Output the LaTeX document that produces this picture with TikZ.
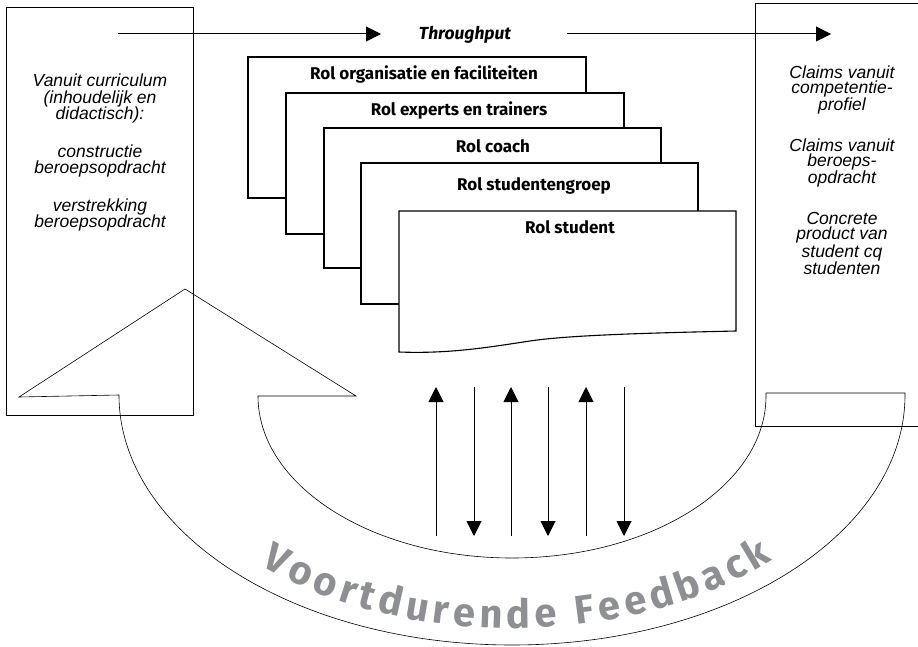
\documentclass[tikz,border=0pt]{standalone}
\usepackage{fontspec}
\setmainfont{Liberation Sans}
\newfontfamily\rolfont{Fira Sans}
\usetikzlibrary{arrows.meta,decorations.text}
\definecolor{fbgray}{RGB}{142,143,147}
\tikzset{
  sidebox/.style={draw,line width=1pt},
  docbox/.style={draw,fill=white,line width=1.1pt},
  roltext/.style={font=\rolfont\bfseries\fontsize{17}{20}\selectfont},
  sidetext/.style={align=center,font=\itshape\fontsize{17.5}{16.5}\selectfont},
  claimtext/.style={align=center,font=\itshape\fontsize{17.5}{15}\selectfont},
  flow/.style={line width=1pt,-{Triangle[length=15pt,width=15pt]}},
  feedline/.style={line width=0.6pt},
}
\begin{document}
\begin{tikzpicture}[x=1pt,y=-1pt]
\useasboundingbox (0,0) rectangle (918,647);

%-------------------Side Boxes--------------------%
\draw[sidebox] (6,8) rectangle (193,415);
\draw[sidebox] (918,4) -- (755,4) -- (755,426) -- (918,426);

\node[sidetext] (curric) at (100,98.5) {Vanuit curriculum\\(inhoudelijk en\\didactisch):};
\node[sidetext] (constr) at (100,161) {constructie\\beroepsopdracht};
\node[sidetext] (verstr) at (100,215) {verstrekking\\beroepsopdracht};

\node[claimtext] (claimprof) at (842,90) {Claims vanuit\\competentie-\\profiel};
\node[claimtext] (claimopdr) at (842,163) {Claims vanuit\\beroeps-\\opdracht};
\node[claimtext] (product) at (842,243.5) {Concrete\\product van\\student cq\\studenten};
%--------------------------------------------------%

%-------------------Throughput--------------------%
\node[font=\rolfont\bfseries\itshape\fontsize{17.5}{20}\selectfont] (thru) at (465,35) {Throughput};
\coordinate (thruin) at (118,34);
\coordinate (thruleft) at (381,34);
\coordinate (thruright) at (567,34);
\coordinate (thruout) at (831,34);
\draw[flow] (thruin) -- (thruleft);
\draw[flow] (thruright) -- (thruout);
%--------------------------------------------------%

%-------------------Role Stack--------------------%
\draw[docbox] (248,57) rectangle (586,198);
\draw[docbox] (286,93) rectangle (624,234);
\draw[docbox] (324,128) rectangle (661,268);
\draw[docbox] (361,163) rectangle (698,304);
\draw[docbox] (399,211) -- (736,211) -- (736,331) .. controls (650,333) and (570,335) .. (530,341) .. controls (490,347) and (450,354) .. (399,352) -- cycle;

\node[roltext] (rolorg) at (424,74) {Rol organisatie en faciliteiten};
\node[roltext] (rolexp) at (459,110) {Rol experts en trainers};
\node[roltext] (rolcoach) at (493,146) {Rol coach};
\node[roltext] (rolgroep) at (534,186) {Rol studentengroep};
\node[roltext] (rolstud) at (570,227) {Rol student};
%--------------------------------------------------%

%-------------------Up and Down--------------------%
\foreach \i/\x in {1/436,2/474,3/511,4/548,5/586,6/624}{
  \coordinate (top\i) at (\x,387);
  \coordinate (bot\i) at (\x,536);
}
\draw[flow] (bot1) -- (top1);
\draw[flow] (top2) -- (bot2);
\draw[flow] (bot3) -- (top3);
\draw[flow] (top4) -- (bot4);
\draw[flow] (bot5) -- (top5);
\draw[flow] (top6) -- (bot6);
%--------------------------------------------------%

%-------------------Feedback Arrow-----------------%
\draw[feedline] (766,393) -- (905,393) -- (905,395) arc(0:180:393 and 250) -- (19,397) -- (185,289) -- (356,396) -- (258,396) arc(180:0:254 and 162) -- cycle;
\path[decorate,decoration={text along path,text align=fit to path,text color=fbgray,
  text={|\rolfont\bfseries\fontsize{40}{40}\selectfont|Voortdurende Feedback}}]
  (512,395) ++(133:368 and 233) arc(133:45:368 and 233);
%--------------------------------------------------%
\end{tikzpicture}
\end{document}
